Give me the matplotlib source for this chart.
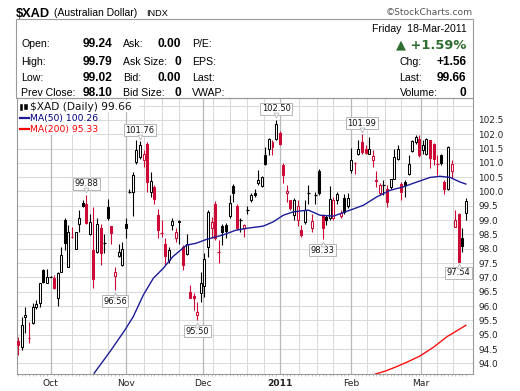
import matplotlib
matplotlib.use("Agg")
import matplotlib.pyplot as plt
from matplotlib.patches import Rectangle
from matplotlib.transforms import offset_copy
import numpy as np

W, H = 520, 391

# ---------------- data ----------------
opens = [94.78, 94.58, 95.63, 94.88, 95.40, 95.96, 96.12, 97.26, 96.81, 97.02,
         96.97, 96.27, 97.20, 99.02, 97.37, 98.43, 98.01, 98.86, 99.61, 99.58,
         98.53, 97.95, 97.89, 98.71, 98.18, 99.46, 98.79, 97.06, 97.76, 97.43,
         98.85, 99.98, 99.98, 101.03, 101.20, 101.09, 101.65, 99.98, 100.14, 99.19,
         98.56, 98.18, 97.60, 98.82, 98.36, 98.97, 98.07, 97.81, 96.50, 96.35,
         95.69, 96.44, 96.70, 98.05, 98.71, 99.56, 97.90, 98.79, 98.82, 99.14,
         100.18, 99.49, 99.00, 98.71, 99.35, 99.70, 99.93, 100.28, 100.18, 101.29,
         101.50, 101.55, 101.84, 102.05, 100.92, 99.95, 99.70, 99.18, 99.00, 98.65,
         98.94, 99.95, 98.71, 99.88, 100.72, 99.17, 99.11, 99.06, 99.06, 99.70,
         99.14, 99.78, 99.49, 100.76, 100.98, 101.30, 101.73, 101.50, 101.32, 101.09,
         100.40, 99.95, 100.22, 100.10, 100.16, 100.45, 101.15, 100.25, 100.33, 100.62,
         101.43, 101.73, 101.84, 101.46, 101.32, 101.78, 101.64, 100.95, 101.26, 100.33,
         100.10, 100.72, 98.76, 99.23, 98.36, 99.24]
highs = [94.93, 95.63, 95.98, 95.46, 96.12, 96.20, 96.82, 97.31, 97.31, 97.05,
         97.08, 97.20, 98.07, 99.06, 98.82, 98.77, 98.60, 99.37, 99.72, 99.88,
         99.23, 99.46, 99.06, 98.88, 98.53, 99.75, 98.79, 97.37, 98.18, 98.24,
         99.06, 100.10, 100.68, 101.78, 101.76, 101.44, 101.73, 100.68, 100.22, 99.40,
         99.00, 98.36, 98.07, 99.06, 98.71, 98.99, 98.13, 98.51, 96.73, 96.44,
         96.15, 97.20, 97.84, 99.37, 99.11, 99.67, 98.30, 98.88, 98.90, 99.87,
         100.25, 99.55, 99.09, 98.88, 99.49, 99.93, 100.10, 100.74, 100.53, 101.55,
         101.88, 101.79, 102.50, 102.11, 101.00, 100.22, 99.72, 99.79, 99.70, 98.82,
         99.70, 100.22, 99.23, 99.97, 100.78, 99.23, 99.17, 100.18, 99.81, 99.99,
         99.35, 99.90, 99.93, 101.53, 101.03, 101.79, 101.99, 101.61, 101.90, 101.44,
         100.72, 100.28, 100.39, 100.22, 100.45, 101.50, 101.61, 100.33, 100.39, 101.26,
         101.81, 101.96, 101.96, 101.78, 101.88, 101.81, 101.69, 101.26, 101.32, 100.39,
         101.57, 101.11, 99.34, 99.25, 98.71, 99.79]
lows = [94.29, 94.47, 95.05, 94.70, 95.37, 95.90, 95.98, 96.81, 96.79, 97.00,
        96.59, 96.00, 97.20, 97.95, 97.35, 98.36, 97.98, 98.59, 99.46, 98.88,
        98.48, 96.62, 97.84, 97.43, 97.84, 99.00, 98.18, 96.56, 97.72, 97.41,
        98.36, 99.95, 99.14, 100.97, 101.15, 100.86, 99.98, 99.81, 99.58, 98.36,
        98.42, 97.43, 97.49, 98.65, 98.24, 98.18, 97.26, 97.78, 96.27, 95.86,
        95.50, 96.15, 96.33, 97.72, 98.36, 98.30, 97.51, 98.13, 98.36, 99.06,
        99.64, 98.65, 98.59, 98.42, 99.23, 99.64, 99.81, 100.22, 100.14, 100.92,
        101.26, 101.26, 101.81, 101.61, 100.30, 99.64, 99.35, 99.00, 98.79, 98.40,
        98.88, 99.58, 98.59, 99.55, 99.87, 98.33, 98.82, 99.00, 99.00, 99.58,
        99.06, 99.23, 99.44, 100.65, 100.60, 101.26, 101.32, 101.32, 101.30, 100.86,
        100.14, 99.87, 99.87, 99.46, 100.10, 100.45, 101.09, 99.69, 99.81, 100.59,
        101.38, 101.67, 101.20, 101.32, 101.26, 100.83, 100.91, 100.56, 100.91, 99.90,
        100.04, 100.48, 98.76, 97.54, 97.89, 99.02]
closes = [94.64, 95.34, 95.68, 94.86, 95.98, 96.09, 96.79, 96.85, 97.02, 97.03,
          96.62, 97.14, 97.78, 98.21, 98.59, 98.42, 98.59, 99.06, 99.49, 98.91,
          98.94, 96.96, 98.88, 97.84, 98.20, 99.06, 98.56, 97.20, 97.89, 97.98,
          98.73, 100.00, 100.59, 101.46, 101.61, 101.32, 100.33, 100.36, 99.75, 98.67,
          98.55, 97.74, 97.95, 98.96, 98.59, 98.93, 97.43, 98.18, 96.30, 96.27,
          95.81, 96.79, 97.66, 99.29, 98.94, 98.36, 97.88, 98.59, 98.62, 99.60,
          99.93, 98.71, 99.02, 98.82, 99.37, 99.87, 99.89, 100.39, 100.49, 100.95,
          101.84, 101.73, 102.34, 101.65, 100.57, 100.02, 99.44, 99.70, 99.48, 98.48,
          99.35, 99.97, 98.98, 99.90, 99.93, 98.71, 99.02, 99.75, 99.70, 99.90,
          99.25, 99.29, 99.78, 101.11, 100.99, 101.50, 101.38, 101.36, 101.50, 101.23,
          100.37, 100.22, 100.24, 99.64, 100.45, 101.20, 101.49, 99.98, 100.22, 100.97,
          101.76, 101.90, 101.26, 101.61, 101.84, 101.17, 101.15, 100.94, 100.99, 100.10,
          101.55, 100.95, 98.99, 97.54, 98.10, 99.66]

ma50_idx = [21.2, 25.6, 29.8, 32.1, 34.9, 37.7, 40.5, 43.1, 45.3, 47.0, 49.6, 52.6,
            57.1, 60.8, 63.6, 64.7, 68.4, 71.2, 74.0, 76.8, 81.0, 84.3, 88.0, 92.7,
            96.4, 100.1, 103.8, 107.5, 111.3, 115.0, 117.8, 120.6, 123.4, 125.0]
ma50_val = [93.66, 94.41, 95.17, 95.63, 96.38, 96.97, 97.32, 97.72, 97.95, 98.13, 98.19, 98.33,
            98.48, 98.65, 98.71, 98.73, 98.79, 98.94, 99.17, 99.29, 99.35, 99.17, 99.14, 99.35,
            99.52, 99.81, 100.04, 100.16, 100.33, 100.49, 100.53, 100.49, 100.33, 100.26]
ma200_idx = [99.6, 102.9, 105.7, 108.5, 112.2, 115.9, 119.7, 122.5, 125.0]
ma200_val = [93.62, 93.75, 93.89, 94.04, 94.26, 94.56, 94.93, 95.14, 95.33]

month_pos = [9.0, 30.0, 51.5, 73.0, 93.0, 112.5]
month_labels = ["Oct", "Nov", "Dec", "2011", "Feb", "Mar"]
week_pos = [15, 20, 25, 35, 40, 45, 54.5, 59, 64, 68.5, 78.5, 83.5, 88, 97.5,
            102.5, 107, 117, 121.5]
y_ticks = [94.0 + 0.5 * k for k in range(18)]

# annotations: (candle index, value, above?)
notes = [(19, 99.88, True), (34, 101.76, True), (72, 102.50, True), (96, 101.99, True),
         (27, 96.56, False), (50, 95.50, False), (85, 98.33, False), (123, 97.54, False)]

RED = "#CC0A35"
NAVY = "#1c1c99"
GRID = "#DADADA"
GRID_D = "#B8B8B8"
BORDER = "#9A9A9A"

fig = plt.figure(figsize=(W / 100, H / 100), dpi=100)
fig.patch.set_facecolor("white")

def fx(x):
    return x / W

def fy(y):
    return 1 - y / H

# axes geometry
L, R, T, B = 17, 473, 97.5, 374.3
ax = fig.add_axes([fx(L), fy(B), fx(R) - fx(L), fy(T) - fy(B)])
ax.set_xlim(-0.36, 127.0)
ax.set_ylim(93.62, 103.28)

# grid
for v in [93.5 + 0.5 * k for k in range(20)]:
    ax.axhline(v, color=GRID, lw=0.75, zorder=0)
for p in week_pos:
    ax.axvline(p, color=GRID, lw=0.75, zorder=0)
for p in month_pos:
    ax.axvline(p, color=GRID_D, lw=0.9, zorder=0)

# candles
n = len(closes)
w = 0.55
for i in range(n):
    o, h, l, c = opens[i], highs[i], lows[i], closes[i]
    prev = closes[i - 1] if i > 0 else o
    col = "black" if (c >= prev) else RED
    hollow = c >= o
    ax.vlines(i, l, h, color=col, lw=0.8, zorder=2)
    lo = min(o, c)
    hgt = abs(c - o)
    if hgt < 0.03:
        ax.hlines((o + c) / 2, i - w / 2 - 0.1, i + w / 2 + 0.1, color=col, lw=0.9, zorder=3)
    else:
        ax.add_patch(Rectangle((i - w / 2, lo), w, hgt,
                               facecolor=("white" if hollow else col),
                               edgecolor=col, lw=0.75, zorder=3))

ax.plot(ma50_idx, ma50_val, color=NAVY, lw=1.0, zorder=4)
ax.plot(ma200_idx, ma200_val, color="#FF1010", lw=1.0, zorder=4)

# value notes
for idx, val, above in notes:
    dy = 11 * 0.72 if above else -11 * 0.72
    ax.annotate(f"{val:.2f}", xy=(idx, val), xytext=(0, dy), textcoords="offset points",
                ha="center", va="center", fontsize=6.0, family="DejaVu Sans",
                color="#111111", zorder=6,
                bbox=dict(boxstyle="square,pad=0.18", fc="white", ec="#B5B5B5", lw=0.7))
    tr = offset_copy(ax.transData, fig=fig, x=0, y=(4.5 if above else -4.5) * 0.72, units="points")
    ax.plot([idx], [val], marker=("v" if above else "^"), ms=3.5, mfc="white",
            mec="#B5B5B5", mew=0.6, transform=tr, zorder=7, clip_on=False)

# axes styling
for s in ax.spines.values():
    s.set_color(BORDER)
    s.set_linewidth(0.8)
ax.yaxis.tick_right()
ax.set_yticks(y_ticks)
ax.set_yticklabels([f"{v:.1f}" for v in y_ticks])
ax.tick_params(axis="y", length=0, pad=4, labelsize=6.4, colors="#222222")
ax.set_xticks(month_pos)
ax.set_xticklabels(month_labels)
ax.tick_params(axis="x", length=0, pad=3.5, labelsize=6.6, colors="#222222")
for lab in ax.get_xticklabels():
    if lab.get_text() == "2011":
        lab.set_fontweight("bold")
ax.set_xticks(range(n), minor=True)
ax.tick_params(axis="x", which="minor", length=1.5, width=0.5, color="#AAAAAA")

# legend in plot (white backing behind the text rows)
for (x0, x1, y0, y1) in [(17.6, 139, 100.5, 112.2), (17.6, 95, 112.2, 134.5)]:
    fig.add_artist(Rectangle((fx(x0), fy(y1)), fx(x1) - fx(x0), fy(y0) - fy(y1),
                             transform=fig.transFigure, fc="white", ec="none", zorder=0.5))
leg_font = dict(family="DejaVu Sans", va="center", ha="left", zorder=1)
fig.text(fx(30.5), fy(106.5), "$XAD (Daily) 99.66", color="#111111", fontsize=7.7, **leg_font)
fig.text(fx(29.5), fy(118.0), "MA(50) 100.26", color="#000080", fontsize=6.7, **leg_font)
fig.text(fx(29.5), fy(129.2), "MA(200) 95.33", color="#FF0000", fontsize=6.7, **leg_font)
# legend icons
fig.add_artist(plt.Line2D([fx(19.5), fx(28.5)], [fy(118.0), fy(118.0)], color=NAVY, lw=1.6,
                          transform=fig.transFigure, zorder=1))
fig.add_artist(plt.Line2D([fx(19.5), fx(28.5)], [fy(129.2), fy(129.2)], color="#FF0000", lw=1.6,
                          transform=fig.transFigure, zorder=1))
for xx, y0, y1 in [(21.0, 103.5, 110), (25.5, 104.5, 109)]:
    fig.add_artist(Rectangle((fx(xx - 1.2), fy(y1)), fx(2.4), fy(y0) - fy(y1),
                             transform=fig.transFigure, fc="black", ec="black", lw=0.4, zorder=1))

# ---------------- header ----------------
fig.text(fx(16), fy(16.8), "$XAD", family="Liberation Sans", fontweight="bold", fontsize=9.2,
         va="baseline", ha="left", color="black")
fig.text(fx(53.5), fy(16.0), "(Australian Dollar)", family="Liberation Sans", fontsize=7.5,
         va="baseline", ha="left", color="black")
fig.text(fx(146), fy(16.0), "INDX", family="Liberation Sans", fontsize=6.6,
         va="baseline", ha="left", color="black")
fig.text(fx(472.5), fy(15.3), "\u00a9StockCharts.com", family="DejaVu Sans", fontsize=6.6,
         va="baseline", ha="right", color="#555555")

fig.add_artist(Rectangle((fx(16), fy(T)), fx(R) - fx(16), fy(19) - fy(T),
                         transform=fig.transFigure, fc="none", ec=BORDER, lw=0.8))

lab = dict(family="Liberation Sans", fontsize=7.6, va="baseline", color="black")
val = dict(family="Liberation Sans", fontsize=8.6, fontweight="bold", va="baseline", color="black")
rows_y = [47.3, 64.7, 81.3, 96.3]
col1 = ["Open:", "High:", "Low:", "Prev Close:"]
col1v = ["99.24", "99.79", "99.02", "98.10"]
col2 = ["Ask:", "Ask Size:", "Bid:", "Bid Size:"]
col2v = ["0.00", "0", "0.00", "0"]
col3 = ["P/E:", "EPS:", "Last:", "VWAP:"]
col4 = ["", "Chg:", "Last:", "Volume:"]
col4v = ["", "+1.56", "99.66", "0"]
for k, yy in enumerate(rows_y):
    fig.text(fx(21), fy(yy), col1[k], ha="left", **lab)
    fig.text(fx(112.5), fy(yy), col1v[k], ha="right", **val)
    fig.text(fx(123), fy(yy), col2[k], ha="left", **lab)
    fig.text(fx(181.5), fy(yy), col2v[k], ha="right", **val)
    fig.text(fx(192), fy(yy), col3[k], ha="left", **lab)
    if col4[k]:
        fig.text(fx(399.5), fy(yy), col4[k], ha="left", **lab)
        fig.text(fx(466.5), fy(yy), col4v[k], ha="right", **val)

fig.text(fx(466.5), fy(32.0), "Friday  18-Mar-2011", ha="right", **lab)
fig.text(fx(466.5), fy(48.0), "\u25B2 +1.59%", ha="right", family="DejaVu Sans",
         fontsize=9.4, fontweight="bold", va="baseline", color="#2F6E2F")

fig.savefig("out.png", dpi=100, facecolor="white")
